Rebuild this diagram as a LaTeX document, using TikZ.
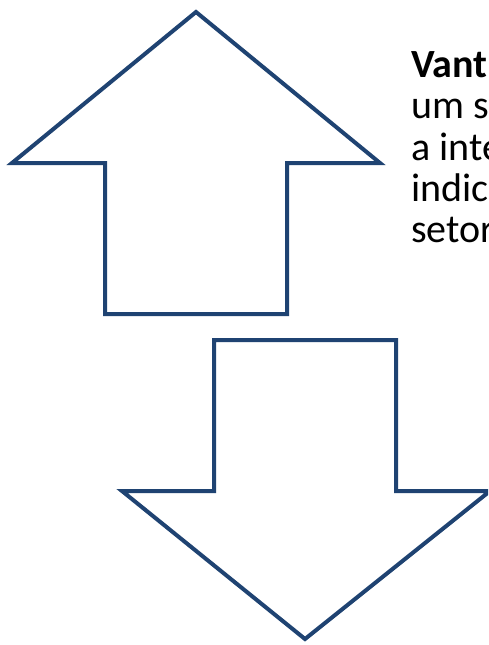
\documentclass[tikz,border=0pt]{standalone}
\usepackage{fontspec}
\setmainfont{Carlito}
\definecolor{arrowblue}{RGB}{31,67,114}
\begin{document}
\begin{tikzpicture}[x=1pt,y=-1pt,
    outline/.style={draw=arrowblue,line width=4pt,line join=miter,fill=white},
    slidetext/.style={anchor=base west,inner sep=0pt,font=\fontsize{40}{41}\selectfont}]
        \useasboundingbox (0,0) rectangle (488,645);
        \clip (0,0) rectangle (488,645);
        % up arrow
        \draw[outline] (196,12) -- (12,163) -- (105,163) -- (105,314) -- (287,314) -- (287,163) -- (380,163) -- cycle;
        % down arrow
        \draw[outline] (214,340) -- (396,340) -- (396,491) -- (490,491) -- (305,639) -- (122,491) -- (214,491) -- cycle;
        % text, cut at the right edge
        \node[slidetext] (line1) at (411,77) {\textbf{Vant}};
        \node[slidetext] (line2) at (411,118) {um s};
        \node[slidetext] (line3) at (411,160) {a inte};
        \node[slidetext] (line4) at (411,201) {indic};
        \node[slidetext] (line5) at (411,242) {setor};
    \end{tikzpicture}
\end{document}
